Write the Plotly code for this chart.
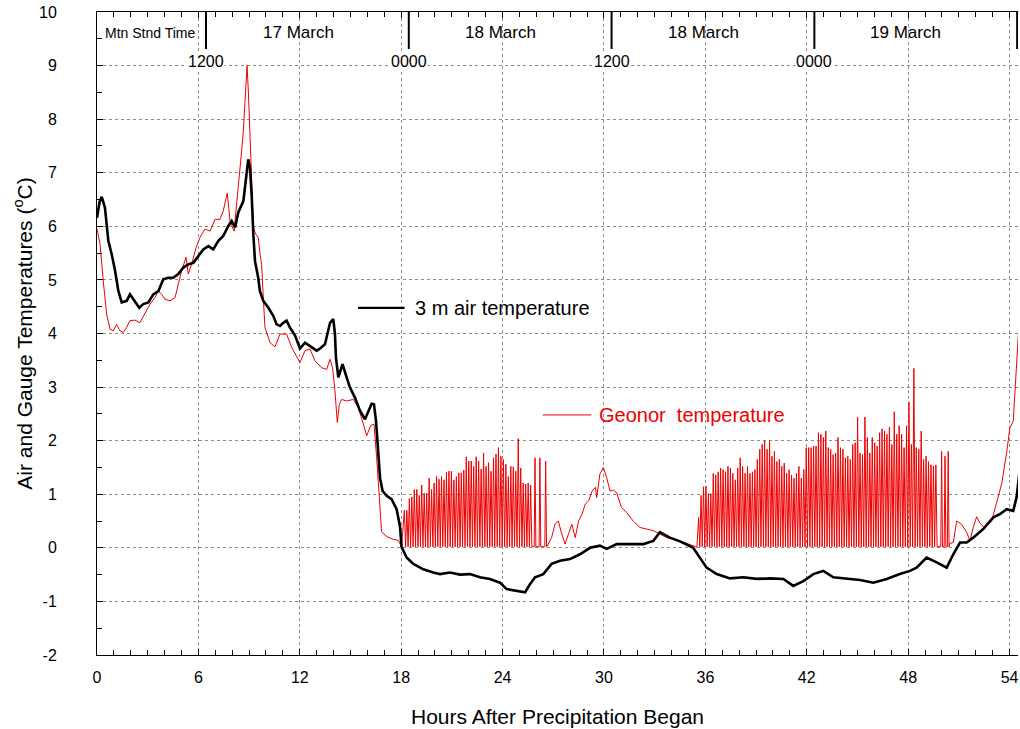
import plotly.graph_objects as go

# ---------------- data ----------------
air_hours = [0.0, 0.15, 0.28, 0.47, 0.67, 0.87, 1.07, 1.26, 1.46, 1.76, 1.95, 2.15, 2.5, 2.74, 3.04,
             3.33, 3.63, 3.92, 4.22, 4.51, 4.81, 5.11, 5.4, 5.7, 6.0, 6.29, 6.59, 6.88, 7.18, 7.47,
             7.77, 7.97, 8.17, 8.36, 8.66, 8.82, 8.95, 9.05, 9.15, 9.25, 9.35, 9.54, 9.64, 9.84,
             10.14, 10.43, 10.63, 10.83, 11.02, 11.22, 11.42, 11.72, 12.01, 12.31, 12.6, 12.8,
             13.0, 13.2, 13.49, 13.79, 13.98, 14.08, 14.14, 14.28, 14.53, 14.77, 14.97, 15.27,
             15.56, 15.86, 16.05, 16.25, 16.39, 16.51, 16.75, 16.9, 17.14, 17.43, 17.73, 17.93,
             18.02, 18.32, 18.72, 19.31, 19.9, 20.3, 20.89, 21.48, 22.07, 22.66, 23.25, 23.85,
             24.24, 24.83, 25.33, 25.62, 25.92, 26.41, 26.9, 27.4, 27.99, 28.58, 29.17, 29.76,
             30.16, 30.75, 31.54, 32.33, 32.92, 33.31, 33.9, 34.5, 35.28, 35.68, 36.07, 36.67,
             37.46, 38.25, 39.04, 39.83, 40.62, 41.2, 41.8, 42.39, 42.98, 43.57, 44.36, 45.15,
             45.94, 46.73, 47.51, 48.1, 48.5, 49.09, 49.69, 50.28, 50.67, 51.07, 51.46, 51.85,
             52.44, 53.04, 53.43, 53.83, 54.22, 54.42, 54.57]
air_temp = [6.16, 6.45, 6.55, 6.35, 5.73, 5.48, 5.17, 4.80, 4.58, 4.61, 4.73, 4.64, 4.48, 4.55, 4.58,
            4.73, 4.79, 5.01, 5.04, 5.04, 5.11, 5.23, 5.29, 5.32, 5.45, 5.57, 5.63, 5.57, 5.73, 5.82,
            6.01, 6.10, 5.98, 6.26, 6.47, 6.85, 7.25, 7.10, 6.60, 5.85, 5.35, 5.04, 4.79, 4.61,
            4.48, 4.33, 4.17, 4.14, 4.20, 4.24, 4.11, 3.96, 3.72, 3.83, 3.76, 3.72,
            3.68, 3.72, 3.80, 4.20, 4.27, 4.00, 3.55, 3.18, 3.43, 3.18, 2.99, 2.80,
            2.56, 2.40, 2.56, 2.69, 2.68, 2.37, 1.30, 1.06, 0.97, 0.91, 0.72, 0.40,
            0.02, -0.18, -0.30, -0.40, -0.46, -0.49, -0.46, -0.50, -0.49, -0.55, -0.58, -0.65,
            -0.77, -0.80, -0.83, -0.68, -0.55, -0.49, -0.30, -0.24, -0.21, -0.12, 0.00, 0.04,
            -0.02, 0.07, 0.07, 0.07, 0.13, 0.29, 0.19, 0.12, 0.00, -0.18, -0.37, -0.49,
            -0.57, -0.55, -0.58, -0.57, -0.58, -0.71, -0.62, -0.49, -0.43, -0.55, -0.58, -0.60,
            -0.65, -0.58, -0.49, -0.43, -0.37, -0.18, -0.27, -0.37, -0.12, 0.10, 0.10, 0.19,
            0.35, 0.57, 0.63, 0.72, 0.69, 0.95, 1.37]

# Geonor gauge temperature: smooth stretches
geonor_hours_a = [0.0, 0.18, 0.37, 0.57, 0.77, 0.96, 1.16, 1.36, 1.56, 1.75, 1.95, 2.25, 2.54, 2.84,
                  3.14, 3.43, 3.63, 3.83, 4.02, 4.32, 4.62, 4.81, 5.01, 5.27, 5.4, 5.6, 5.86, 6.09,
                  6.39, 6.69, 6.98, 7.28, 7.47, 7.71, 7.87, 8.11, 8.27, 8.42, 8.56, 8.66, 8.78,
                  8.88, 8.96, 9.05, 9.15, 9.25, 9.35, 9.54, 9.64, 9.74, 9.84, 9.94, 10.24, 10.53,
                  10.83, 11.22, 11.52, 12.01, 12.31, 12.6, 12.9, 13.3, 13.59, 13.79, 13.94, 14.08,
                  14.22, 14.34, 14.48, 14.77, 15.17, 15.46, 15.76, 15.96, 16.19, 16.39, 16.55,
                  16.65, 16.75, 16.84, 17.14, 17.53, 17.83, 18.02]
geonor_temp_a = [5.95, 5.67, 4.98, 4.36, 4.08, 4.05, 4.17, 4.05, 4.02, 4.11, 4.24, 4.25, 4.20, 4.39,
                 4.55, 4.67, 4.79, 4.73, 4.64, 4.61, 4.67, 4.92, 5.17, 5.42, 5.11, 5.29, 5.60, 5.79,
                 5.95, 5.91, 6.13, 6.13, 6.29, 6.62, 6.10, 5.91, 6.41, 6.85, 7.41, 7.78, 8.60,
                 9.00, 8.50, 7.78, 6.97, 6.00, 5.88, 5.79, 5.50, 5.29, 4.67, 4.11, 3.83, 3.75,
                 3.99, 3.99, 3.74, 3.46, 3.68, 3.71, 3.49, 3.36, 3.33, 3.52, 3.36, 2.93,
                 2.34, 2.68, 2.77, 2.74, 2.77, 2.62, 2.31, 2.09, 2.28, 2.31, 1.68,
                 1.19, 0.82, 0.30, 0.21, 0.16, 0.14, 0.02]

geonor_hours_b = [26.65, 26.7, 26.9, 27.1, 27.3, 27.5, 27.7, 27.9, 28.1, 28.3, 28.5, 28.7, 28.9, 29.1,
                  29.3, 29.5, 29.57, 29.76, 29.96, 30.16, 30.36, 30.55, 30.75, 31.04, 31.34, 31.73,
                  32.13, 32.53, 32.92, 33.31, 33.7, 34.1, 34.5, 35.1, 35.5]
geonor_temp_b = [0.03, 0.07, 0.19, 0.44, 0.50, 0.26, 0.07, 0.26, 0.44, 0.19, 0.50, 0.63, 0.82, 0.88,
                 1.06, 1.13, 0.94, 1.38, 1.50, 1.31, 1.06, 1.08, 1.03, 0.75, 0.66, 0.50,
                 0.38, 0.35, 0.32, 0.26, 0.19, 0.17, 0.13, 0.06, 0.01]

geonor_hours_c = [50.45, 50.67, 50.87, 51.16, 51.46, 51.66, 51.85, 52.05, 52.25, 52.54, 52.94, 53.24,
                  53.53, 53.83, 54.02, 54.22, 54.32, 54.46, 54.56]
geonor_temp_c = [0.08, 0.10, 0.50, 0.44, 0.29, 0.13, 0.38, 0.58, 0.46, 0.37, 0.50, 0.85,
                 1.19, 1.78, 2.24, 2.37, 2.87, 3.50, 4.20]

# Geonor cycling (heater on/off) spikes: peak values at regular cycles
spike_floor = 0.02
zone1_first_hour, zone1_last_hour = 18.19, 25.66
zone1_peaks = [0.70, 0.70, 0.92, 0.95, 1.09, 1.09, 0.98, 1.17, 1.02, 1.02,
               1.30, 1.09, 1.21, 1.33, 1.28, 1.33, 1.27, 1.41, 1.43, 1.43,
               1.27, 1.33, 1.40, 1.40, 1.45, 1.70, 1.62, 1.62, 1.52, 1.70,
               1.62, 1.47, 1.77, 1.52, 1.59, 1.43, 1.68, 1.75, 1.87, 1.71,
               1.65, 1.56, 1.33, 1.52, 1.51, 1.43, 2.04, 1.49, 1.21, 1.19,
               1.21, 1.17]
zone1_late_hours = [25.92, 26.21, 26.55]
zone1_late_peaks = [1.68, 1.68, 1.62]

zone2_first_hour, zone2_last_hour = 35.6, 49.64
zone2_peaks = [0.57, 0.98, 1.14, 1.15, 1.01, 1.01, 1.39, 1.36, 1.42, 1.49,
               1.46, 1.42, 1.52, 1.49, 1.39, 1.27, 1.49, 1.68, 1.52, 1.39,
               1.52, 1.39, 1.42, 1.46, 1.65, 1.84, 1.93, 2.00, 1.84, 2.00,
               1.71, 1.80, 1.61, 1.65, 1.52, 1.58, 1.39, 1.46, 1.36, 1.30,
               1.39, 1.52, 1.30, 1.46, 1.87, 1.87, 1.87, 1.90, 1.90, 2.15,
               2.12, 2.06, 2.18, 1.87, 1.84, 1.74, 1.77, 2.06, 1.87, 1.84,
               1.68, 1.71, 1.65, 1.93, 1.96, 2.44,
               1.77, 1.74, 2.44, 2.06, 1.77, 2.06, 1.96, 1.90, 2.15, 2.22,
               2.18, 2.12, 2.25, 1.93, 2.54, 2.12, 2.28, 2.12, 1.87, 2.28,
               2.72, 1.93, 3.35, 1.87, 1.84, 2.18, 1.65, 1.71, 1.61, 1.55,
               1.53, 1.55]
zone2_late_hours = [49.98, 50.18, 50.37]
zone2_late_peaks = [1.80, 1.71, 1.80]

# header (time of day) annotations
clock_tick_hours = [6.45, 18.45, 30.45, 42.45, 54.45]
clock_labels = ["1200", "0000", "1200", "0000"]
day_label_hours = [11.9, 23.9, 35.9, 47.85]
day_labels = ["17 March", "18 March", "18 March", "19 March"]

x_ticks = [0, 6, 12, 18, 24, 30, 36, 42, 48, 54]
y_ticks = list(range(-2, 11))

# ---------------- assemble the Geonor series ----------------
def cycling(first, last, peaks):
    """Regular heater cycles: each peak is followed by a return to the floor half a cycle later."""
    n = len(peaks)
    step = (last - first) / (n - 1)
    xs, ys = [], []
    for i, p in enumerate(peaks):
        h = first + i * step
        xs += [h, h + step / 2]
        ys += [p, spike_floor]
    return xs, ys

def isolated(hours, peaks, half=0.05):
    xs, ys = [], []
    for h, p in zip(hours, peaks):
        xs += [h - half, h, h + half]
        ys += [spike_floor, p, spike_floor]
    return xs, ys

gx, gy = list(geonor_hours_a), list(geonor_temp_a)
sx, sy = cycling(zone1_first_hour, zone1_last_hour, zone1_peaks); gx += sx; gy += sy
sx, sy = isolated(zone1_late_hours, zone1_late_peaks); gx += sx; gy += sy
gx += geonor_hours_b; gy += geonor_temp_b
sx, sy = cycling(zone2_first_hour, zone2_last_hour, zone2_peaks); gx += sx; gy += sy
sx, sy = isolated(zone2_late_hours, zone2_late_peaks); gx += sx; gy += sy
gx += geonor_hours_c; gy += geonor_temp_c

FONT = "Arial, 'Liberation Sans', sans-serif"
RED = "#ee0000"
GRID = "rgb(140,140,140)"

fig = go.Figure()
fig.add_trace(go.Scatter(x=gx, y=gy, mode="lines", name="Geonor  temperature",
                         line=dict(color=RED, width=1), showlegend=False))
fig.add_trace(go.Scatter(x=air_hours, y=air_temp, mode="lines", name="3 m air temperature",
                         line=dict(color="black", width=2.6), showlegend=False))

# legend samples placed inside the plot like the original
fig.add_shape(type="line", xref="x", yref="y", x0=15.45, x1=18.2, y0=4.48, y1=4.48,
              line=dict(color="black", width=2.2))
fig.add_annotation(x=18.7, y=4.48, xref="x", yref="y", text="3 m air temperature",
                   showarrow=False, xanchor="left", yanchor="middle",
                   font=dict(family=FONT, size=20, color="black"))
fig.add_shape(type="line", xref="x", yref="y", x0=26.37, x1=29.25, y0=2.48, y1=2.48,
              line=dict(color=RED, width=1))
fig.add_annotation(x=29.6, y=2.48, xref="x", yref="y", text="Geonor\u00a0 temperature",
                   showarrow=False, xanchor="left", yanchor="middle",
                   font=dict(family=FONT, size=20, color=RED))

# header: clock ticks and labels
for h in clock_tick_hours:
    fig.add_shape(type="line", xref="x", yref="y", x0=h, x1=h, y0=10, y1=9.31,
                  line=dict(color="black", width=2))
for h, lab in zip(clock_tick_hours, clock_labels):
    fig.add_annotation(x=h, y=9.07, xref="x", yref="y", text=lab, showarrow=False,
                       xanchor="center", yanchor="middle", bgcolor="white", borderpad=0,
                       font=dict(family=FONT, size=16, color="black"))
for h, lab in zip(day_label_hours, day_labels):
    fig.add_annotation(x=h, y=9.62, xref="x", yref="y", text=lab, showarrow=False,
                       xanchor="center", yanchor="middle",
                       font=dict(family=FONT, size=17, color="black"))
fig.add_annotation(x=0.33, y=9.6, xref="x", yref="y", text="Mtn Stnd Time", showarrow=False,
                   xanchor="left", yanchor="middle", font=dict(family=FONT, size=14, color="black"))

fig.update_layout(
    width=1020, height=729,
    margin=dict(l=97, r=2, t=12, b=74),
    paper_bgcolor="white", plot_bgcolor="white",
    font=dict(family=FONT, color="black"),
    xaxis=dict(
        range=[0, 54.5], tickvals=x_ticks, ticktext=[str(v) for v in x_ticks],
        showgrid=True, gridcolor=GRID, griddash="dot", gridwidth=1,
        showline=True, linecolor="black", linewidth=1, mirror="ticks",
        ticks="inside", ticklen=6, tickcolor="black",
        minor=dict(dtick=1, ticks="inside", ticklen=5, tickcolor="black", showgrid=False),
        zeroline=False,
        tickfont=dict(family=FONT, size=16),
        ticklabelstandoff=8,
        title=dict(text="Hours After Precipitation Began", font=dict(family=FONT, size=21),
                   standoff=24),
    ),
    yaxis=dict(
        range=[-2, 10], tickvals=y_ticks, ticktext=[str(v) for v in y_ticks],
        showgrid=True, gridcolor=GRID, griddash="dot", gridwidth=1,
        showline=True, linecolor="black", linewidth=1,
        ticks="inside", ticklen=6, tickcolor="black",
        minor=dict(dtick=0.5, ticks="inside", ticklen=5, tickcolor="black", showgrid=False),
        zeroline=False,
        tickfont=dict(family=FONT, size=16),
        ticklabelstandoff=36,
        title=dict(text="Air and Gauge Temperatures (<sup>o</sup>C)",
                   font=dict(family=FONT, size=21), standoff=0),
    ),
)

fig.write_html("out.html")
